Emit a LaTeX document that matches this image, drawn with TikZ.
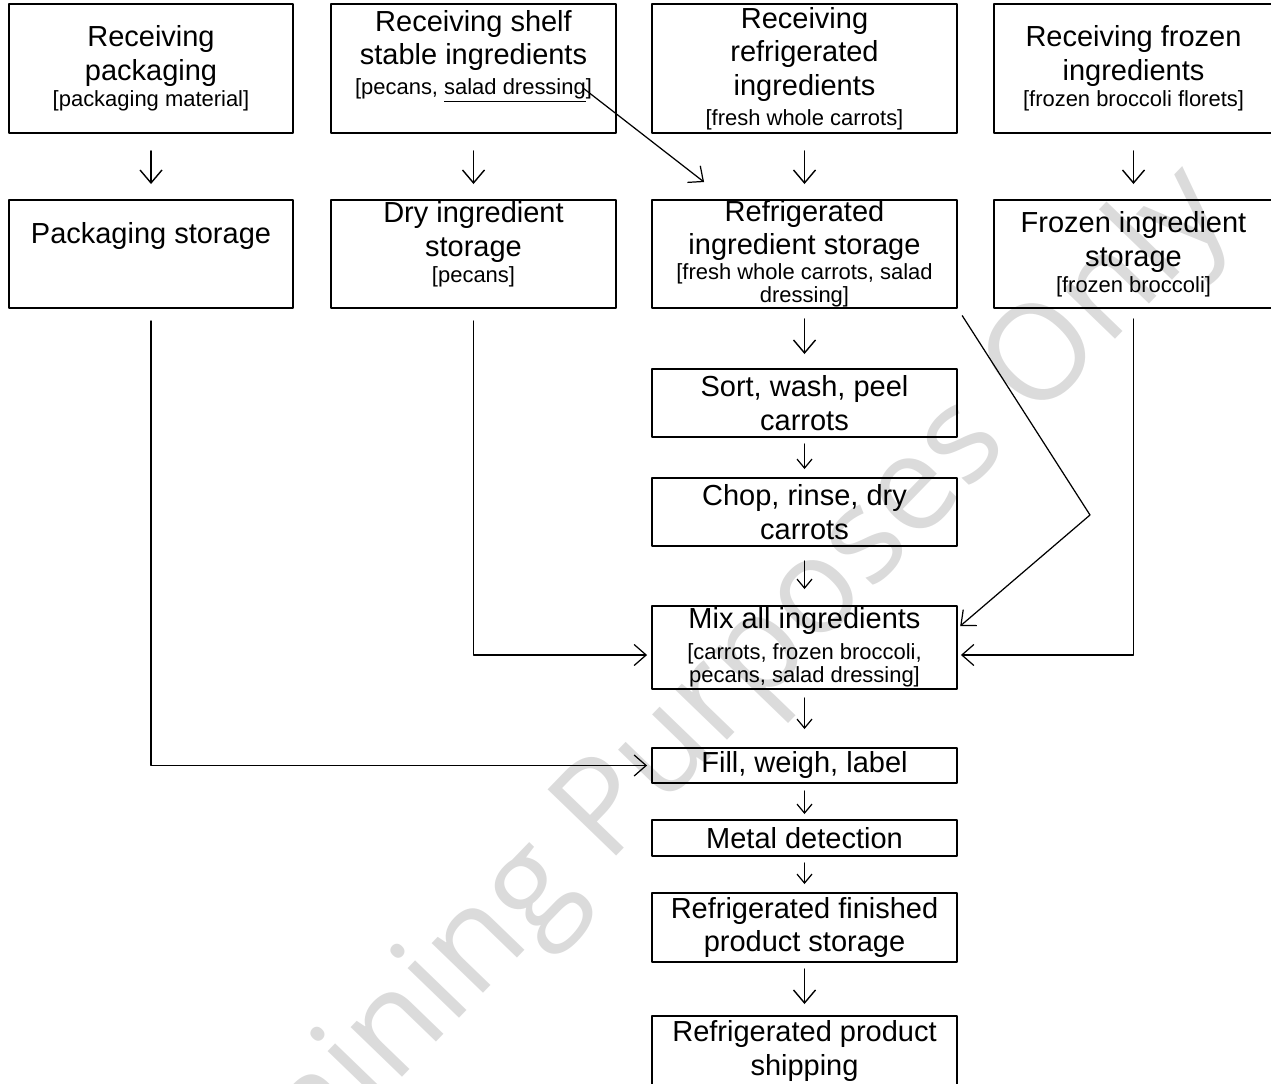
\documentclass[tikz,border=0pt]{standalone}
\usepackage{fontspec}
\setmainfont{Liberation Sans}
\newfontfamily\wmfont{Open Sans}
\usetikzlibrary{arrows.meta}
\newcommand{\bigtxt}{\fontsize{16.5}{19.2}\selectfont}
\newcommand{\smtxt}{\fontsize{12.5}{15}\selectfont}
\tikzset{
  stepbox/.style={draw, line width=1.1pt, align=center, inner sep=0pt, font=\bigtxt},
  boxtxt/.style={align=center, inner sep=0pt, font=\bigtxt},
  bigarr/.style={line width=0.8pt, -{Straight Barb[length=0.26cm,width=0.44cm]}},
  smallarr/.style={line width=0.7pt, -{Straight Barb[length=0.18cm,width=0.3cm]}},
  link/.style={line width=0.7pt, -{Straight Barb[length=0.24cm,width=0.42cm]}},
  wm/.style={text=black!14, font=\wmfont\fontsize{76}{76}\selectfont, inner sep=0pt}
}
\begin{document}
\begin{tikzpicture}[x=0.02cm, y=-0.02cm, line join=round, line cap=round]
\useasboundingbox (0,0) rectangle (1271,1084);
% watermark
\node[wm, rotate=46] (wmark) at (711,708) {Training Purposes Only};
% receiving
\node[stepbox, minimum width=5.68cm, minimum height=2.58cm] (rpack) at (151,68.5) {Receiving\\packaging\\[-4pt]\smtxt [packaging material]};
\node[stepbox, minimum width=5.7cm, minimum height=2.58cm] (rshelf) at (473.5,68.5) {};
\node[boxtxt] (rshelftxt) at ([yshift=0.24cm]rshelf) {Receiving shelf\\stable ingredients\\[-2.2pt]\smtxt [pecans, \underline{salad dressing}]};
\node[stepbox, minimum width=6.1cm, minimum height=2.58cm] (rrefrig) at (804.5,68.5) {Receiving\\refrigerated\\ingredients\\[-2.2pt]\smtxt [fresh whole carrots]};
\node[stepbox, minimum width=5.58cm, minimum height=2.58cm] (rfrozen) at (1133.5,68.5) {Receiving frozen\\ingredients\\[-4pt]\smtxt [frozen broccoli florets]};
% storage
\node[stepbox, minimum width=5.68cm, minimum height=2.16cm] (pstore) at (151,254) {};
\node[boxtxt] (pstoretxt) at ([yshift=0.36cm]pstore) {Packaging storage};
\node[stepbox, minimum width=5.7cm, minimum height=2.16cm] (dstore) at (473.5,254) {};
\node[boxtxt] (dstoretxt) at ([yshift=0.19cm]dstore) {Dry ingredient\\storage\\[-4pt]\smtxt [pecans]};
\node[stepbox, minimum width=6.1cm, minimum height=2.16cm] (rstore) at (804.5,254) {};
\node[boxtxt] (rstoretxt) at (rstore) {Refrigerated\\[-0.6pt]ingredient storage\\[-4.6pt]\smtxt [fresh whole carrots, salad\\[-6.2pt]\smtxt dressing]};
\node[stepbox, minimum width=5.58cm, minimum height=2.16cm] (fstore) at (1133.5,254) {Frozen ingredient\\storage\\[-4.4pt]\smtxt [frozen broccoli]};
% processing
\node[stepbox, minimum width=6.1cm, minimum height=1.36cm] (sort) at (804.5,403) {Sort, wash, peel\\carrots};
\node[stepbox, minimum width=6.1cm, minimum height=1.36cm] (chop) at (804.5,512) {Chop, rinse, dry\\carrots};
\node[stepbox, minimum width=6.1cm, minimum height=1.66cm] (mix) at (804.5,647.5) {Mix all ingredients\\[-1.5pt]\smtxt [carrots, frozen broccoli,\\[-6.2pt]\smtxt pecans, salad dressing]};
\node[stepbox, minimum width=6.1cm, minimum height=0.7cm] (fill) at (804.5,765.5) {Fill, weigh, label};
\node[stepbox, minimum width=6.1cm, minimum height=0.72cm] (metal) at (804.5,838) {Metal detection};
\node[stepbox, minimum width=6.1cm, minimum height=1.38cm] (rfps) at (804.5,927.5) {Refrigerated finished\\product storage};
\node[stepbox, minimum width=6.1cm, minimum height=1.4cm] (rps) at (804.5,1051) {Refrigerated product\\shipping};
% down arrows
\draw[bigarr, shorten <=0.34cm, shorten >=0.3cm] (rpack) -- (pstore);
\draw[bigarr, shorten <=0.34cm, shorten >=0.3cm] (rshelf) -- (dstore);
\draw[bigarr, shorten <=0.34cm, shorten >=0.3cm] (rrefrig) -- (rstore);
\draw[bigarr, shorten <=0.34cm, shorten >=0.3cm] (rfrozen) -- (fstore);
\draw[bigarr, shorten <=0.2cm, shorten >=0.28cm] (rstore) -- (sort);
\draw[smallarr, shorten <=0.12cm, shorten >=0.16cm] (sort) -- (chop);
\draw[smallarr, shorten <=0.28cm, shorten >=0.32cm] (chop) -- (mix);
\draw[smallarr, shorten <=0.16cm, shorten >=0.36cm] (mix) -- (fill);
\draw[smallarr, shorten <=0.14cm, shorten >=0.1cm] (fill) -- (metal);
\draw[smallarr, shorten <=0.12cm, shorten >=0.16cm] (metal) -- (rfps);
\draw[bigarr, shorten <=0.12cm, shorten >=0.22cm] (rfps) -- (rps);
% side links
\coordinate (dressend) at (583,88);
\coordinate (kink) at (1090,515);
\draw[link] (dressend) -- ([xshift=1.06cm,yshift=0.34cm]rstore.north west);
\draw[link, shorten <=0.16cm, shorten >=0.06cm] (rstore.south east) -- (kink) -- ([yshift=0.39cm]mix.east);
\draw[link, shorten <=0.2cm, shorten >=0.06cm] (fstore.south) |- ([yshift=-0.15cm]mix.east);
\draw[link, shorten <=0.24cm, shorten >=0.08cm] (dstore.south) |- ([yshift=-0.15cm]mix.west);
\draw[link, shorten <=0.24cm, shorten >=0.08cm] (pstore.south) |- (fill.west);
\end{tikzpicture}
\end{document}
